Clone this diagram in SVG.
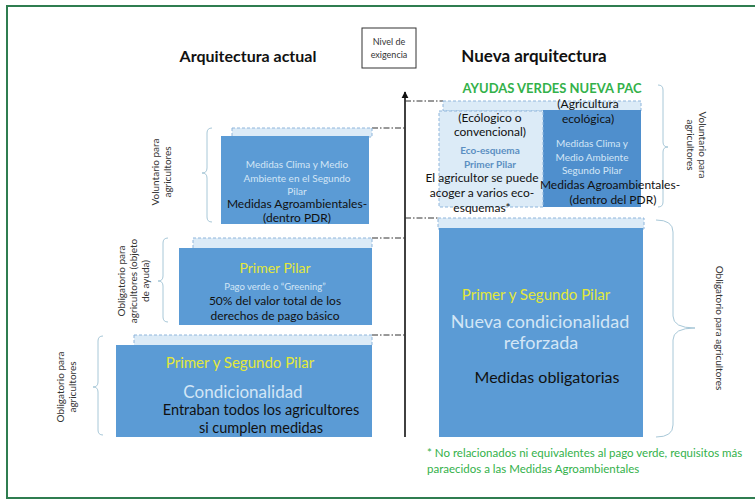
<svg xmlns="http://www.w3.org/2000/svg" width="755" height="499" viewBox="0 0 755 499">
<defs>
<marker id="arr" viewBox="0 0 10 10" refX="9" refY="5" markerWidth="4.5" markerHeight="4.5" orient="auto-start-reverse"><path d="M0,0 L10,5 L0,10 z" fill="#111"/></marker>
<style>
.t{font-family:Lato,"Open Sans","Liberation Sans",sans-serif}
.box{fill:#5b9bd5}
.dark{fill:#4f8fcd}
.band{fill:#dcebf7;stroke:#8fb6dc;stroke-width:1;stroke-dasharray:3 2}
.dd{stroke:#333;stroke-width:1;stroke-dasharray:6 2 1.5 2;fill:none}
.brace{fill:none;stroke:#a8c8d8;stroke-width:1}
.lt{fill:#d3e6f6}
.dk{fill:#111}
.yl{fill:#e3e83a}
.gr{fill:#33b14a}
.lbl{font-size:10px;fill:#333}
</style>
</defs>
<rect width="755" height="499" fill="#fff"/>
<path d="M760 6 H7 V498 H760" fill="none" stroke="#2f7d50" stroke-width="2"/>

<g id="headers">
<text class="t" x="248" y="62" font-size="16" font-weight="bold" text-anchor="middle" fill="#111">Arquitectura actual</text>
<text class="t" x="534" y="62" font-size="17" font-weight="bold" text-anchor="middle" fill="#111">Nueva arquitectura</text>
</g>
<g id="nivel">
<rect x="362" y="28" width="54" height="40" fill="#fff" stroke="#333" stroke-width="1"/>
<text class="t" x="389" y="45" font-size="9" text-anchor="middle" fill="#333">Nivel de</text>
<text class="t" x="389" y="58" font-size="9" text-anchor="middle" fill="#333">exigencia</text>
</g>

<g id="connectors">
<line x1="405" y1="437" x2="405" y2="92" stroke="#111" stroke-width="1.6" marker-end="url(#arr)"/>
<line class="dd" x1="372" y1="128" x2="405" y2="128"/>
<line class="dd" x1="372" y1="238" x2="405" y2="238"/>
<line class="dd" x1="372" y1="335" x2="405" y2="335"/>
<line class="dd" x1="405" y1="101" x2="443" y2="101"/>
<line class="dd" x1="405" y1="218" x2="438" y2="218"/>
</g>

<g id="braces">
<path class="brace" d="M212 128 Q207 128 207 133 V168 Q207 173 202 173 Q207 173 207 178 V217 Q207 222 212 222"/>
<path class="brace" d="M168 238 Q163 238 163 243 V276 Q163 281 158 281 Q163 281 163 286 V317 Q163 322 168 322"/>
<path class="brace" d="M103 336 Q98 336 98 341 V382 Q98 387 93 387 Q98 387 98 392 V430 Q98 435 103 435"/>
<path class="brace" d="M658 85 Q663 85 663 90 V142 Q663 147 668 147 Q663 147 663 152 V202 Q663 207 658 207"/>
<path class="brace" d="M656 220 Q673 220 673 232 V316 Q673 328 695 328 Q673 328 673 340 V425 Q673 437 656 437"/>
</g>

<g id="labels">
<text class="t lbl" transform="translate(163 172) rotate(-90)" text-anchor="middle"><tspan x="0" y="-4">Voluntario para</tspan><tspan x="0" y="8">agricultores</tspan></text>
<text class="t lbl" transform="translate(135 281) rotate(-90)" text-anchor="middle"><tspan x="0" y="-10">Obligatorio para</tspan><tspan x="0" y="2">agricultores (objeto</tspan><tspan x="0" y="14">de ayuda)</tspan></text>
<text class="t lbl" transform="translate(68 387) rotate(-90)" text-anchor="middle"><tspan x="0" y="-4">Obligatorio para</tspan><tspan x="0" y="8">agricultores</tspan></text>
<text class="t lbl" transform="translate(695 145) rotate(90)" text-anchor="middle"><tspan x="0" y="-4">Voluntario para</tspan><tspan x="0" y="8">agricultores</tspan></text>
<text class="t lbl" transform="translate(719 328) rotate(90)" text-anchor="middle"><tspan x="0" y="3">Obligatorio para agricultores</tspan></text>
</g>

<g id="node-voluntario-actual">
<rect class="band" x="232" y="128" width="140" height="9"/>
<rect class="box" x="221" y="136" width="148" height="88"/>
<text class="t lt" font-size="10" text-anchor="middle"><tspan x="297" y="168">Medidas Clima y Medio</tspan><tspan x="297" y="182">Ambiente en el Segundo</tspan><tspan x="297" y="195">Pilar</tspan></text>
<text class="t dk" font-size="12" text-anchor="middle"><tspan x="297" y="208">Medidas Agroambientales-</tspan><tspan x="297" y="222">(dentro PDR)</tspan></text>
</g>

<g id="node-primer-pilar">
<rect class="band" x="193" y="238" width="179" height="11"/>
<rect class="box" x="179" y="248" width="193" height="77"/>
<text class="t yl" x="275" y="273" font-size="14" text-anchor="middle">Primer Pilar</text>
<text class="t lt" x="275" y="290" font-size="9.5" text-anchor="middle">Pago verde o “Greening”</text>
<text class="t dk" font-size="12" text-anchor="middle"><tspan x="275" y="305">50% del valor total de los</tspan><tspan x="275" y="320">derechos de pago básico</tspan></text>
</g>

<g id="node-condicionalidad">
<rect class="band" x="134" y="335" width="238" height="11"/>
<rect class="box" x="116" y="345" width="256" height="92"/>
<text class="t yl" x="240" y="368" font-size="15" text-anchor="middle">Primer y Segundo Pilar</text>
<text class="t lt" x="243" y="398" font-size="17" text-anchor="middle">Condicionalidad</text>
<text class="t dk" font-size="14.5" text-anchor="middle"><tspan x="261" y="415">Entraban todos los agricultores</tspan><tspan x="261" y="433">si cumplen medidas</tspan></text>
</g>

<g id="node-ayudas-verdes">
<text class="t gr" x="552" y="93" font-size="13" font-weight="bold" text-anchor="middle">AYUDAS VERDES NUEVA PAC</text>
<rect class="band" x="443" y="101" width="198" height="10"/>
<rect class="dark" x="543" y="110" width="98" height="97"/>
<rect class="band" x="439" y="111" width="104" height="96"/>
<text class="t dk" font-size="12" text-anchor="middle"><tspan x="490" y="122">(Ecólogico o</tspan><tspan x="490" y="136">convencional)</tspan></text>
<text class="t" font-size="10" font-weight="bold" fill="#5b8fc2" text-anchor="middle"><tspan x="490" y="154">Eco-esquema</tspan><tspan x="490" y="168">Primer Pilar</tspan></text>
<text class="t dk" font-size="12" text-anchor="middle"><tspan x="482" y="182">El agricultor se puede</tspan><tspan x="482" y="197">acoger a varios eco-</tspan><tspan x="482" y="212">esquemas*</tspan></text>
<text class="t dk" font-size="12" text-anchor="middle"><tspan x="588" y="108">(Agricultura</tspan><tspan x="588" y="123">ecológica)</tspan></text>
<text class="t lt" font-size="10" text-anchor="middle"><tspan x="592" y="147">Medidas Clima y</tspan><tspan x="592" y="161">Medio Ambiente</tspan><tspan x="592" y="174">Segundo Pilar</tspan></text>
<text class="t dk" font-size="12" text-anchor="middle"><tspan x="610" y="189">Medidas Agroambientales-</tspan><tspan x="613" y="204">(dentro del PDR)</tspan></text>
</g>

<g id="node-nueva-condicionalidad">
<rect class="band" x="438" y="218" width="206" height="11"/>
<rect class="box" x="439" y="228" width="204" height="209"/>
<text class="t yl" x="536" y="300" font-size="15" text-anchor="middle">Primer y Segundo Pilar</text>
<text class="t lt" font-size="18" text-anchor="middle"><tspan x="540" y="328">Nueva condicionalidad</tspan><tspan x="541" y="349">reforzada</tspan></text>
<text class="t dk" x="547" y="383" font-size="16" text-anchor="middle">Medidas obligatorias</text>
</g>

<g id="footnote">
<text class="t gr" font-size="11.5"><tspan x="427" y="457">* No relacionados ni equivalentes al pago verde, requisitos más</tspan><tspan x="427" y="473">paraecidos a las Medidas Agroambientales</tspan></text>
</g>
</svg>
